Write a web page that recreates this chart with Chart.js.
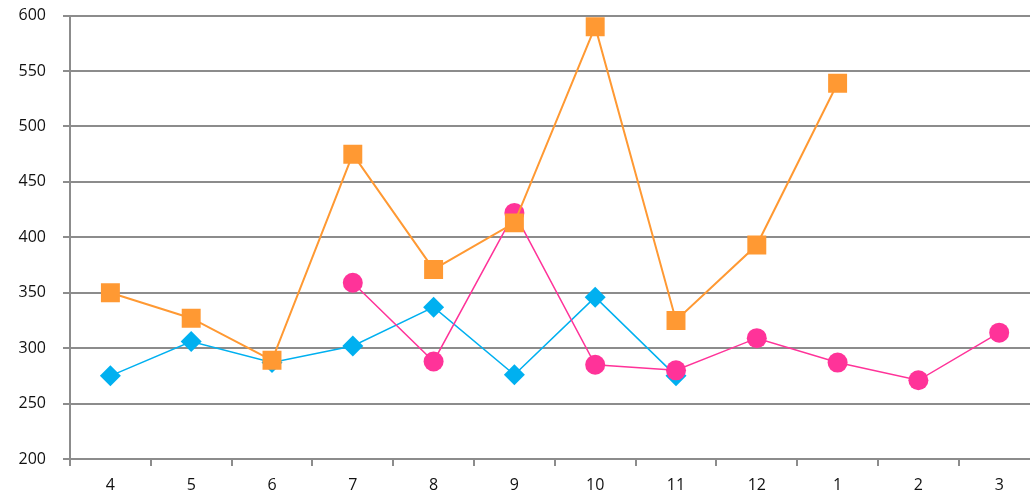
<!DOCTYPE html>
<html lang="en">
<head>
<meta charset="UTF-8">
<script src="https://cdn.jsdelivr.net/npm/chart.js@4/dist/chart.umd.min.js"></script>
<title>Chart</title>
<style>
  html, body { margin: 0; padding: 0; background: #fff; overflow: hidden; }
  #wrap { width: 1030px; height: 509px; margin-top: -11px; }
</style>
</head>
<body>
<div id="wrap"><canvas id="myChart"></canvas></div>
<script>
// months on the x axis (April to March)
const months = ['4', '5', '6', '7', '8', '9', '10', '11', '12', '1', '2', '3'];
const orangeValues = [350, 327, 289, 475, 371, 413, 590, 325, 393, 539, null, null];
const pinkValues = [null, null, null, 359, 288, 422, 285, 280, 309, 287, 271, 314];
const blueValues = [275, 306, 287, 302, 337, 276, 346, 275, null, null, null, null];
const yTicks = [200, 250, 300, 350, 400, 450, 500, 550, 600];

const gridGray = '#8c8c8c';
const tickFont = { family: 'Open Sans', size: 16 };

// the reference plot runs a little past the right edge of the picture
const runOffRight = {
  id: 'runOffRight',
  afterLayout(chart) {
    const extra = 23;
    const x = chart.scales.x;
    x.right += extra;
    x.width += extra;
    x.configure();
    chart.chartArea.right += extra;
    chart.chartArea.width += extra;
  }
};

var ctx = document.getElementById('myChart').getContext('2d');
var myChart = new Chart(ctx, {
  type: 'line',
  data: {
    labels: months,
    datasets: [{
      data: orangeValues,
      borderColor: '#ff9933',
      backgroundColor: '#ff9933',
      borderWidth: 2,
      pointStyle: 'rect',
      pointRadius: 13.4,
      pointBorderWidth: 0,
      order: 0
    }, {
      data: pinkValues,
      borderColor: '#ff3399',
      backgroundColor: '#ff3399',
      borderWidth: 1.5,
      pointStyle: 'circle',
      pointRadius: 10,
      pointBorderWidth: 0,
      order: 1
    }, {
      data: blueValues,
      borderColor: '#00b0f0',
      backgroundColor: '#00b0f0',
      borderWidth: 1.5,
      pointStyle: 'rectRot',
      pointRadius: 10.5,
      pointBorderWidth: 0,
      order: 2
    }]
  },
  options: {
    responsive: true,
    maintainAspectRatio: false,
    animation: false,
    spanGaps: false,
    layout: { padding: { top: 8, right: 0, left: 0, bottom: 0 } },
    plugins: { legend: { display: false }, tooltip: { enabled: false } },
    scales: {
      x: {
        offset: true,
        grid: { offset: true, drawOnChartArea: false, color: gridGray, lineWidth: 2, tickLength: 7 },
        border: { color: gridGray, width: 2 },
        ticks: { color: '#111', font: tickFont, padding: 10, maxRotation: 0 },
        afterFit: function (scale) { scale.height = 39; }
      },
      y: {
        min: 200,
        max: 600,
        afterBuildTicks: function (scale) { scale.ticks = yTicks.map(v => ({ value: v })); },
        grid: { color: gridGray, lineWidth: 2, tickLength: 7 },
        border: { color: gridGray, width: 2 },
        ticks: { color: '#111', font: tickFont, padding: 17 },
        afterFit: function (scale) { scale.width = 70; }
      }
    }
  },
  plugins: [runOffRight]
});
</script>
</body>
</html>
